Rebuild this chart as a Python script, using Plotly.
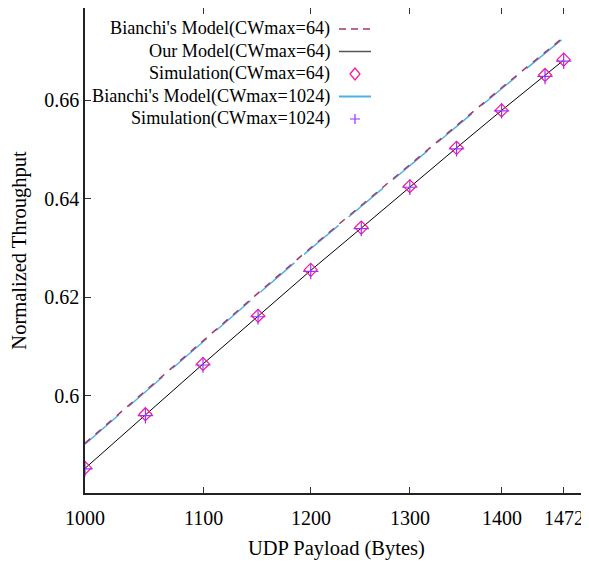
import math
import plotly.graph_objects as go

# payload sizes (bytes)
payload = [1000, 1050, 1100, 1150, 1200, 1250, 1300, 1350, 1400, 1450, 1472]

# normalized throughput
bianchi_64 = [0.5903, 0.6010, 0.6111, 0.6208, 0.6300, 0.6386, 0.6470, 0.6549, 0.6625, 0.6697, 0.6728]
our_model_64 = [0.5852, 0.5961, 0.6064, 0.6161, 0.6254, 0.6340, 0.6424, 0.6503, 0.6579, 0.6650, 0.6681]
sim_64 = [0.5853, 0.5962, 0.6064, 0.6162, 0.6255, 0.6341, 0.6425, 0.6503, 0.6579, 0.6651, 0.6682]
bianchi_1024 = [0.5901, 0.6008, 0.6109, 0.6206, 0.6298, 0.6384, 0.6468, 0.6547, 0.6623, 0.6695, 0.6726]
sim_1024 = [0.5851, 0.5959, 0.6062, 0.6160, 0.6252, 0.6339, 0.6423, 0.6501, 0.6578, 0.6648, 0.6679]

x_ticks = [1000, 1100, 1200, 1300, 1400, 1472]
y_ticks = [0.6, 0.62, 0.64, 0.66]
y_tick_text = ["0.6", "0.62", "0.64", "0.66"]

legend_labels = [
    "Bianchi's Model(CWmax=64)",
    "Our Model(CWmax=64)",
    "Simulation(CWmax=64)",
    "Bianchi's Model(CWmax=1024)",
    "Simulation(CWmax=1024)",
]

FONT = "Liberation Serif"
C_BIANCHI64 = "#a3386c"
C_OUR = "#000000"
C_SIM64 = "#ff1493"
C_BIANCHI1024 = "#4fb0e4"
C_SIM1024 = "#9b30ff"

# page body has an 8px margin, so the figure is shrunk by that much
OFF = 8
W, H = 589 - OFF, 565 - OFF
M_L, M_R, M_T, M_B = 85 - OFF, 2, 0, 72

fig = go.Figure()
fig.add_trace(go.Scatter(x=payload, y=bianchi_1024, mode="lines",
                         line=dict(color=C_BIANCHI1024, width=1.5, dash="45px,13px")))
fig.add_trace(go.Scatter(x=payload, y=bianchi_64, mode="lines",
                         line=dict(color=C_BIANCHI64, width=1.5, dash="7px,7px")))
fig.add_trace(go.Scatter(x=payload, y=our_model_64, mode="lines",
                         line=dict(color=C_OUR, width=1)))
fig.add_trace(go.Scatter(x=payload, y=sim_64, mode="markers",
                         marker=dict(symbol="diamond-open", size=10, color=C_SIM64,
                                     line=dict(width=1.2, color=C_SIM64))))
fig.add_trace(go.Scatter(x=payload, y=sim_1024, mode="markers",
                         marker=dict(symbol="cross-thin-open", size=11, color=C_SIM1024,
                                     line=dict(width=1.2, color=C_SIM1024))))

# hand-drawn legend in gnuplot style (text right-aligned, sample on the right)
plot_w = W - M_L - M_R
plot_h = H - M_T - M_B


def px_x(px):
    return (px - OFF - M_L) / plot_w


def px_y(py):
    return (H - M_B - (py - OFF)) / plot_h


rows = [29, 51.5, 74, 96.5, 119]
text_right = 332
s0, s1, sc = 339, 371, 355

for label, py in zip(legend_labels, rows):
    fig.add_annotation(x=px_x(text_right), y=px_y(py), xref="paper", yref="paper",
                       text=label, showarrow=False, xanchor="right", yanchor="middle",
                       font=dict(family=FONT, size=18.2, color="black"))

fig.add_shape(type="line", xref="paper", yref="paper",
              x0=px_x(s0), x1=px_x(s1), y0=px_y(rows[0]), y1=px_y(rows[0]),
              line=dict(color=C_BIANCHI64, width=1.5, dash="7px,5px"))
fig.add_shape(type="line", xref="paper", yref="paper",
              x0=px_x(s0), x1=px_x(s1), y0=px_y(rows[1]), y1=px_y(rows[1]),
              line=dict(color="#555555", width=1.5))
fig.add_shape(type="line", xref="paper", yref="paper",
              x0=px_x(s0), x1=px_x(s1), y0=px_y(rows[3]), y1=px_y(rows[3]),
              line=dict(color=C_BIANCHI1024, width=2))
fig.add_shape(type="path", xref="paper", yref="paper",
              xsizemode="pixel", ysizemode="pixel",
              xanchor=px_x(sc), yanchor=px_y(rows[2]),
              path="M -5 0 L 0 6 L 5 0 L 0 -6 Z",
              line=dict(color=C_SIM64, width=1.2))
fig.add_shape(type="path", xref="paper", yref="paper",
              xsizemode="pixel", ysizemode="pixel",
              xanchor=px_x(sc), yanchor=px_y(rows[4]),
              path="M -5 0 L 5 0 M 0 -5 L 0 5",
              line=dict(color=C_SIM1024, width=1.2))

# x tick labels placed as text under each tick
for v in x_ticks:
    fig.add_annotation(x=math.log10(v), xref="x", y=0, yref="paper",
                       text=str(v), showarrow=False, xanchor="center", yanchor="middle",
                       yshift=-25, font=dict(family=FONT, size=20, color="black"))
fig.add_annotation(x=0.5, xref="paper", y=0, yref="paper",
                   text="UDP Payload (Bytes)", showarrow=False,
                   xanchor="center", yanchor="middle", yshift=-55,
                   font=dict(family=FONT, size=20.5, color="black"))

axis_common = dict(
    showgrid=False, zeroline=False, showline=True, mirror="ticks",
    linecolor="#222222", linewidth=1.5, automargin=False,
    ticks="inside", ticklen=6, tickwidth=1, tickcolor="#333333",
    tickfont=dict(family=FONT, size=20, color="black"),
)

fig.update_xaxes(type="log", range=[3.0, 3.17609], tickvals=x_ticks,
                 showticklabels=False, **axis_common)
fig.update_yaxes(range=[0.5802, 0.6787], tickvals=y_ticks, ticktext=y_tick_text,
                 title=dict(text="Normalized Throughput", standoff=15,
                            font=dict(family=FONT, size=20.5, color="black")),
                 **axis_common)

fig.update_layout(
    width=W, height=H,
    margin=dict(l=M_L, r=M_R, t=M_T, b=M_B),
    paper_bgcolor="white", plot_bgcolor="white",
    showlegend=False,
)

fig.write_html("out.html")
